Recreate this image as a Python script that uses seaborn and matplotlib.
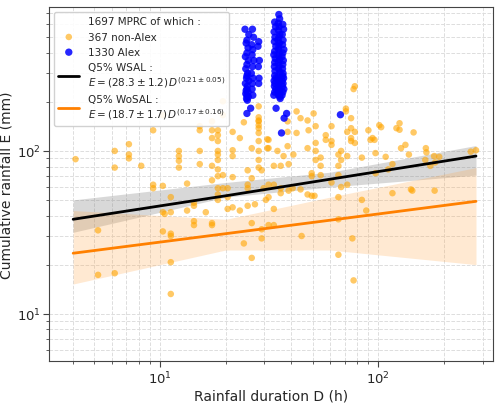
import numpy as np
import pandas as pd
import matplotlib
matplotlib.use("Agg")
import matplotlib.pyplot as plt
import seaborn as sns

# non-Alex events (duration h, cumulative rainfall mm)
nonalex_D = [4.1,5.2,5.2,6.2,6.2,6.2,7.2,7.2,7.2,8.2,9.3,9.3,9.3,10.3,10.3,11.2,10.3,11.2,10.5,11.2,11.2,10.3,11.2,11.2,
             12.2,12.2,12.2,12.2,13.3,13.3,14.3,14.3,14.3,14.3,15.2,15.2,15.2,15.2,16.2,17.3,17.3,17.3,17.3,17.3,17.3,17.3,
             18.4,18.4,18.4,18.4,18.4,18.4,18.4,18.4,18.4,18.4,18.4,19.4,19.4,19.4,19.4,20.4,20.4,20.4,21.5,21.5,21.5,21.5,21.5,
             23.2,23.2,24.2,24.2,25.2,25.2,25.2,25.2,26.3,26.3,26.3,26.3,27.2,28.3,28.3,28.3,28.3,28.3,28.3,28.3,28.3,28.3,28.3,28.3,
             29.2,29.2,29.2,31.4,31.4,31.4,31.4,29.8,30.5,31.0,31.0,31.4,33.2,33.2,33.2,33.2,34.5,35.7,35.7,35.7,36.8,
             38.4,38.4,38.4,38.8,38.8,40.5,40.8,42.2,42.2,44.0,44.0,44.5,47.4,47.4,47.4,47.9,49.5,51.0,49.5,49.5,50.5,
             51.6,51.6,51.6,51.6,54.4,54.4,54.4,57.4,57.4,61.0,61.0,61.0,61.0,65.6,65.6,65.6,65.6,65.6,65.6,67.5,67.5,67.5,
             71.0,71.0,72.0,72.0,72.0,75.0,75.0,75.0,75.0,76.0,77.0,77.0,78.0,78.0,78.0,84.0,84.0,88.0,90.0,92.0,94.0,96.0,
             97.0,97.0,101.0,103.0,108.0,111.0,116.0,116.0,121.0,125.0,127.0,125.0,133.0,138.0,141.0,143.0,145.0,164.0,
             165.0,166.0,173.0,180.0,182.0,181.0,190.0,265.0,280.0]
nonalex_E = [89,32.5,17.3,100,79,17.7,110,95,90,81,134,62,59,166,61,52,42,42,41,31,30,32,20.7,13.2,
             100,93,87,79,63,43,48,46,37,35,142,134,100,83,42,152,134,120,81,66,35,36,
             134,125,115,100,95,88,77,70,59,54,50,202,166,71,59,44,59,52,131,101,93,69,45,
             120,43,150,27,76,62,59,46,36,22,68,104,47,161,154,152,144,138,129,115,100,88,79,188,
             33,29,76,117,104,52,35,59,50,118,104,62,81,62,44,35,100,81,59,55,93,
             152,131,107,83,57,59,95,175,129,159,58,30,154,104,54,134,53,53,73,70,170,
             142,112,100,88,91,81,71,125,117,142,115,109,64,95,81,71,52,38,23,100,88,60,
             182,175,131,93,62,159,138,120,115,29,16,240,131,112,250,91,50,43,134,117,120,117,
             97,73,144,140,92,77,83,55,138,148,104,135,109,95,58,57,130,88,
             104,98,81,93,85,57,92,99,101]

# Alex events
alex_D = ([24.5,25.5,25.0,24.8,25.3,25.0,24.6,25.4,25.0,24.7,25.2,25.0,24.9,25.5,24.6,25.1,25.0,24.8,25.3,24.7,25.0,25.4,24.9,25.1] +
          [26.5,26.8,26.3,26.6,26.4,26.9,26.5,26.2,26.7,26.5,26.4,26.6] +
          [28.3,28.1,28.5,28.2,28.4,28.3] +
          [33.5,33.8,33.3,33.6,33.4,33.9,33.5,33.2,33.7,33.5,33.4,33.6,33.5,33.8,33.3,33.6,33.4,33.9,33.5,33.2] +
          [35.0,35.3,34.8,35.1,34.9,35.4,35.0,34.7,35.2,35.0,34.9,35.1,35.0,35.3,34.8,35.1,34.9,35.4,35.0,34.7,
           35.2,35.0,34.9,35.1,35.0,35.3,34.8,35.1,34.9,35.4] +
          [36.5,36.8,36.3,36.6,36.4,36.9,36.5,36.2,36.7,36.5,36.4,36.6,36.5,36.8,36.3,36.6,36.4,36.9,36.5,36.2] +
          [26.0,25.0,34.0,38.0,37.0,36.0,35.5,67.0])
alex_E = ([560,520,480,460,430,400,380,360,340,320,300,290,280,270,260,250,240,235,230,225,220,215,210,205] +
          [560,500,450,420,390,360,330,300,280,260,240,220] +
          [470,440,360,330,280,260] +
          [620,580,540,500,470,440,410,390,370,350,330,310,290,280,270,260,250,240,230,220] +
          [690,650,610,580,550,520,500,480,460,440,420,400,380,365,350,335,320,305,290,280,270,260,250,245,240,235,230,225,220,215] +
          [600,560,520,480,450,420,400,380,360,340,320,300,290,280,270,260,250,240,230,220] +
          [183,170,183,170,159,129,210,167])

# quantile fits
fit_D = [4, 20, 60, 280]
wsal_E = [38, 53, 67, 93]
wsal_lo = [31.6, 52, 60, 71]
wsal_hi = [50, 64, 74, 108]
wosal_E = [23.5, 31, 37.5, 49]
wosal_lo = [15.2, 24.6, 24.6, 20]
wosal_hi = [43, 38, 52, 79]

sns.set_style("ticks")
fig = plt.figure(figsize=(5, 4.06), dpi=100)
ax = fig.add_axes([0.098, 0.108, 0.888, 0.872])

ax.fill_between(fit_D, wsal_lo, wsal_hi, color="gray", alpha=0.3, lw=0)
ax.fill_between(fit_D, wosal_lo, wosal_hi, color="#ffa94d", alpha=0.25, lw=0)

df_n = pd.DataFrame({"D": nonalex_D, "E": nonalex_E})
df_a = pd.DataFrame({"D": alex_D, "E": alex_E})
ax.plot([], [], ' ', label="1697 MPRC of which :")
sns.scatterplot(data=df_n, x="D", y="E", color="orange", alpha=0.6, s=22, edgecolor="none", ax=ax, label="367 non-Alex")
sns.scatterplot(data=df_a, x="D", y="E", color="blue", alpha=0.85, s=28, edgecolor="none", ax=ax, label="1330 Alex")
sns.lineplot(x=fit_D, y=wsal_E, color="black", lw=2, ax=ax,
             label="Q5% WSAL :\n$E = (28.3 \\pm 1.2)\\,D^{(0.21 \\pm 0.05)}$")
sns.lineplot(x=fit_D, y=wosal_E, color="#ff8000", lw=2, ax=ax,
             label="Q5% WoSAL :\n$E = (18.7 \\pm 1.7)\\,D^{(0.17 \\pm 0.16)}$")

ax.set_xscale("log")
ax.set_yscale("log")
ax.set_xlim(3.1, 335)
ax.set_ylim(5.1, 766)
ax.grid(True, which="both", ls="--", color="#dddddd", lw=0.7)
ax.set_xlabel("Rainfall duration D (h)", fontsize=10, labelpad=2)
ax.set_ylabel("Cumulative rainfall E (mm)", fontsize=10, labelpad=2)
ax.tick_params(which="major", labelsize=9.5, pad=2, length=4, width=0.8, color="#444444", bottom=True, left=True)
ax.tick_params(which="minor", length=2, width=0.6, color="#444444", bottom=True, left=True)
for s in ax.spines.values():
    s.set_color("#444444")
ax.legend(loc="upper left", fontsize=7.5, framealpha=0.9)
fig.savefig("out.png", dpi=100)
